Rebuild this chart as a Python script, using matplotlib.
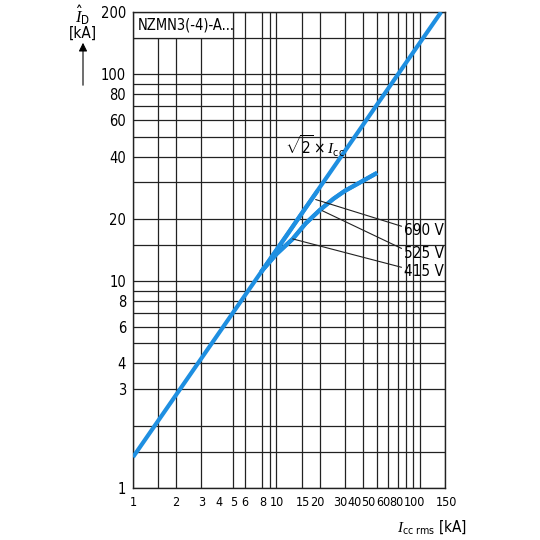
import matplotlib
matplotlib.use("Agg")
import matplotlib.pyplot as plt
import matplotlib.transforms as mtransforms
from matplotlib.patches import Rectangle, FancyArrowPatch

plt.rcParams['font.family'] = ['DejaVu Sans']
plt.rcParams['font.stretch'] = 'condensed'
plt.rcParams['mathtext.fontset'] = 'custom'
plt.rcParams['mathtext.rm'] = 'DejaVu Sans:stretch=condensed'
plt.rcParams['mathtext.it'] = 'Liberation Serif:italic'

# data
x_grid = [1, 1.5, 2, 3, 5, 6, 8, 9, 10, 15, 20, 30, 40, 50, 60, 70, 80, 90, 100, 150]
y_grid = [1, 1.5, 2, 3, 4, 5, 6, 7, 8, 9, 10, 15, 20, 30, 40, 50, 60, 70, 80, 90, 100, 150, 200]
x_ticks = [1, 2, 3, 4, 5, 6, 8, 10, 15, 20, 30, 40, 50, 60, 80, 100, 150]
y_ticks = [1, 3, 4, 6, 8, 10, 20, 40, 60, 80, 100, 200]

# sqrt(2) x Icc line
sq_x = [1, 141]
sq_y = [1.41, 200]
# limited peak current curves
i690_x = [8, 12, 16, 19]
i690_y = [11.3, 16.9, 22.6, 26.8]
i525_x = [8, 10, 13, 16, 20, 25, 30, 40, 49]
i525_y = [11.3, 13.5, 16.0, 19.0, 22.0, 25.0, 27.3, 30.5, 33.0]
i415_x = [8, 10, 13, 16, 20, 25, 30, 40, 49]
i415_y = [11.3, 13.5, 16.0, 19.0, 22.0, 25.0, 27.3, 30.5, 33.0]

labels = ['690 V', '525 V', '415 V']
label_pts = [(18.8, 24.8), (20.9, 21.9), (13.0, 16.0)]
label_txt = [(78, 17.5), (78, 13.6), (78, 11.1)]

blue = '#1e8fe1'

fig = plt.figure(figsize=(5.4, 5.4), dpi=100)
ax = fig.add_axes([133/540, 1-488/540, 312/540, 476/540])
ax.set_xscale('log')
ax.set_yscale('log')
ax.set_xlim(1, 150)
ax.set_ylim(1, 200)

for v in x_grid:
    ax.axvline(v, color='#222222', lw=0.9, zorder=1)
for v in y_grid:
    ax.axhline(v, color='#222222', lw=0.9, zorder=1)

ax.add_patch(Rectangle((1, 150), 4, 50, facecolor='white', edgecolor='#222222', lw=0.9, zorder=2))
ax.text(1.08, 173, 'NZMN3(-4)-A...', fontsize=10.5, va='center', ha='left', zorder=3)

ax.plot(sq_x, sq_y, color=blue, lw=3, solid_capstyle='butt', zorder=4)
ax.plot(i690_x, i690_y, color=blue, lw=3, zorder=4)
ax.plot(i525_x, i525_y, color=blue, lw=3, zorder=4)
ax.plot(i415_x, i415_y, color=blue, lw=3, zorder=4)

ax.text(11.4, 44.7, r'$\sqrt{2}\times I_{\mathrm{cc}}$', fontsize=11, ha='left', va='center', zorder=5)

for lab, p, t in zip(labels, label_pts, label_txt):
    ax.annotate(lab, xy=p, xytext=t, fontsize=11, ha='left', va='center', zorder=5,
                arrowprops=dict(arrowstyle='-', color='#222222', lw=0.8,
                                shrinkA=0, shrinkB=0, relpos=(0, 0.75)))

ax.set_xticks(x_ticks)
ax.set_xticklabels([str(v) for v in x_ticks])
ax.set_yticks(y_ticks)
ax.set_yticklabels([str(v) for v in y_ticks])
ax.minorticks_off()
ax.tick_params(axis='both', length=0)
ax.tick_params(axis='x', pad=6, labelsize=9)
ax.tick_params(axis='y', pad=5, labelsize=10.5)

# crowded labels in the original are nudged sideways (pixels)
x_shift = [0, 0, 0, 0, 0, 0, 0, 1, 1, -2, -5, -8, -8, -5, -9, -5, 1]
for lab, dx in zip(ax.get_xticklabels(), x_shift):
    lab.set_transform(lab.get_transform() + mtransforms.ScaledTranslation(dx/100, 0, fig.dpi_scale_trans))

for s in ax.spines.values():
    s.set_linewidth(1.0)
    s.set_color('#222222')

# axis titles
fig.text(83/540, 1-15/540, r'$\hat{I}_{\mathrm{D}}$', fontsize=12, ha='center', va='center')
fig.text(83/540, 1-33/540, '[kA]', fontsize=11, ha='center', va='center')
fig.patches.append(FancyArrowPatch(
    (83/540, 1-88/540), (83/540, 1-40/540), transform=fig.transFigure,
    arrowstyle='-|>,head_length=5,head_width=2.5', color='black', lw=0.8))
fig.text(467/540, 1-527/540, r'$I_{\mathrm{cc\ rms}}$ [kA]', fontsize=11, ha='right', va='center')

fig.savefig('out.png', dpi=100)
